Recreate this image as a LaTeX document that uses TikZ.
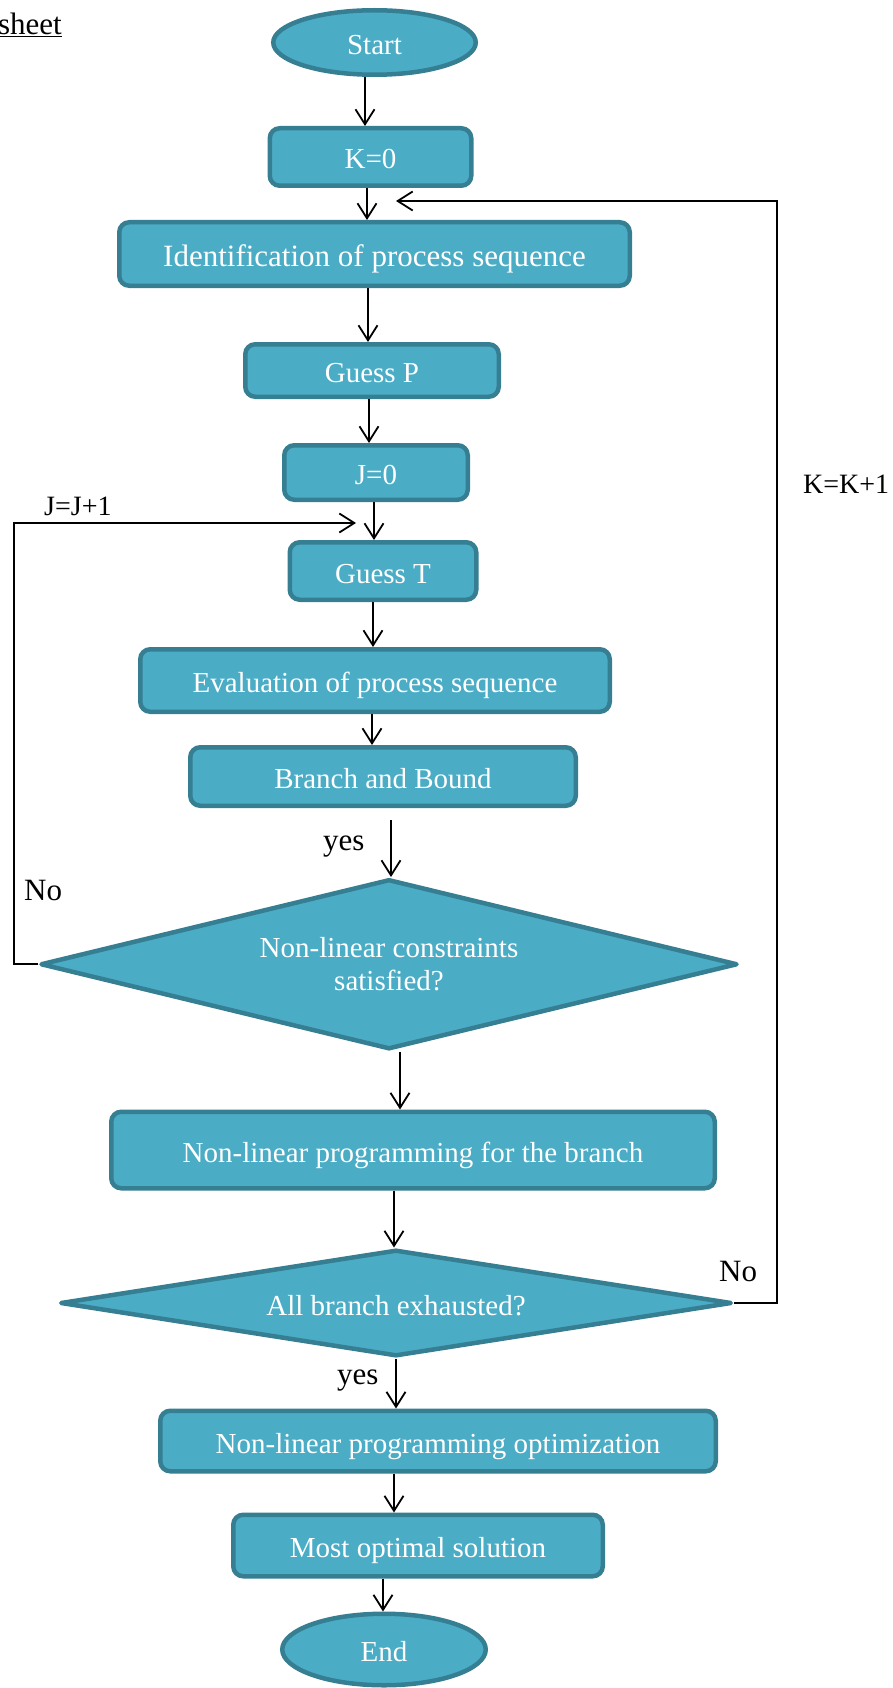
\documentclass[tikz,border=0pt]{standalone}
\usepackage{fontspec}
\setmainfont{Liberation Serif}
\usetikzlibrary{shapes,arrows.meta,positioning,calc}
\definecolor{boxfill}{HTML}{4BACC6}
\definecolor{boxline}{HTML}{367F93}

\begin{document}
\begin{tikzpicture}[x=1pt, y=1pt,
    box/.style={rectangle, rounded corners=10pt, fill=boxfill, draw=boxline,
      line width=4.5pt, text=white, inner sep=0pt,
      font=\fontsize{29}{34}\selectfont, text height=24pt, text depth=0pt},
    term/.style={box, ellipse},
    decision/.style={diamond, fill=boxfill, draw=boxline, line width=4.5pt,
      line join=round, text=white, inner sep=0pt, align=center,
      font=\fontsize{29}{33}\selectfont},
    arr/.style={-{Straight Barb[length=15pt,width=19pt]}, line width=1.8pt},
    lbl/.style={font=\fontsize{31}{36}\selectfont, inner sep=0pt},
    steplbl/.style={font=\fontsize{28}{32}\selectfont, inner sep=0pt}]
  \useasboundingbox (0,0) rectangle (893,-1688);

  % main chain
  \node[term, minimum width=202.5pt, minimum height=64.5pt]
    (start) at (374.5,-42.5) {Start};
  \node[box, minimum width=201.5pt, minimum height=57.5pt, below=49pt of start, xshift=-4pt]
    (k0) {K=0};
  \node[box, minimum width=510.5pt, minimum height=63.5pt, below=32pt of k0, xshift=4pt,
    font=\fontsize{31}{36}\selectfont]
    (ident) {Identification of process sequence};
  \node[box, minimum width=253.5pt, minimum height=52.5pt, below=54pt of ident, xshift=-2.5pt]
    (guessP) {Guess P};
  \node[box, minimum width=183.5pt, minimum height=54.5pt, below=44pt of guessP, xshift=4pt]
    (j0) {J=0};
  \node[box, minimum width=186.5pt, minimum height=57.5pt, below=38pt of j0, xshift=7pt]
    (guessT) {Guess T};
  \node[box, minimum width=469.5pt, minimum height=62.5pt, below=45pt of guessT, xshift=-8pt]
    (eval) {Evaluation of process sequence};
  \node[box, minimum width=385.5pt, minimum height=58.5pt, below=31pt of eval, xshift=8pt]
    (bb) {Branch and Bound};
  \node[decision, aspect=4.1, minimum width=697pt, minimum height=170pt, below=69pt of bb, xshift=6pt]
    (cons) {Non-linear constraints\\satisfied?};
  \node[box, minimum width=603.5pt, minimum height=76.5pt, below=58pt of cons, xshift=24pt]
    (nlpb) {Non-linear programming for the branch};
  \node[decision, aspect=6.3, minimum width=671.5pt, minimum height=106.5pt, below=57pt of nlpb, xshift=-17pt,
    text height=24pt, text depth=0pt]
    (exh) {All branch exhausted?};
  \node[box, minimum width=555.5pt, minimum height=60.5pt, below=50pt of exh, xshift=42pt]
    (nlpo) {Non-linear programming optimization};
  \node[box, minimum width=369.5pt, minimum height=61.5pt, below=39pt of nlpo, xshift=-20pt]
    (most) {Most optimal solution};
  \node[term, minimum width=203.5pt, minimum height=71.5pt, below=33pt of most, xshift=-34pt]
    (end) {End};

  % arrows down the chain
  \draw[arr] ([xshift=-9.5pt]start.south) -- ([xshift=-9.5pt]start.south |- k0.north);
  \draw[arr] ([xshift=-3.5pt]k0.south) -- ([xshift=-3.5pt]k0.south |- ident.north);
  \draw[arr] ([xshift=-6.5pt]ident.south) -- ([xshift=-6.5pt]ident.south |- guessP.north);
  \draw[arr] ([xshift=-3pt]guessP.south) -- ([xshift=-3pt]guessP.south |- j0.north);
  \draw[arr] ([xshift=-2pt]j0.south) -- ([xshift=-2pt]j0.south |- guessT.north);
  \draw[arr] ([xshift=-10pt]guessT.south) -- ([xshift=-10pt]guessT.south |- eval.north);
  \draw[arr] ([xshift=-3pt]eval.south) -- ([xshift=-3pt]eval.south |- bb.north);
  \draw[arr] ([xshift=8pt,yshift=-12pt]bb.south) -- ([xshift=8pt]bb.south |- cons.north);
  \draw[arr] ([xshift=11pt]cons.south) -- ([xshift=11pt]cons.south |- nlpb.north);
  \draw[arr] ([xshift=-19pt]nlpb.south) -- ([xshift=-19pt]nlpb.south |- exh.north);
  \draw[arr] (exh.south) -- (exh.south |- nlpo.north);
  \draw[arr] ([xshift=-44pt]nlpo.south) -- ([xshift=-44pt]nlpo.south |- most.north);
  \draw[arr] ([xshift=-35pt]most.south) -- ([xshift=-35pt]most.south |- end.north);

  % loops back
  \coordinate (jtip) at ([xshift=-20pt,yshift=-21pt]j0.south);
  \coordinate (ktip) at ([xshift=25.5pt,yshift=-13pt]k0.south);
  \draw[arr] (cons.west) -- ++(-24.5,0) |- (jtip);
  \draw[arr] (exh.east) -- ++(43,0) |- (ktip);

  % labels
  \node[lbl, anchor=base east] (sheet) at (62,-35) {\underline{sheet}};
  \node[steplbl, anchor=base west] (jinc) at (44,-515) {J=J+1};
  \node[steplbl, anchor=base west] (kinc) at (803,-493) {K=K+1};
  \node[lbl, anchor=base west] (no1) at (24,-900) {No};
  \node[lbl, anchor=base west] (yes1) at (323,-850) {yes};
  \node[lbl, anchor=base west] (no2) at (719,-1281) {No};
  \node[lbl, anchor=base west] (yes2) at (337,-1384) {yes};
\end{tikzpicture}
\end{document}
